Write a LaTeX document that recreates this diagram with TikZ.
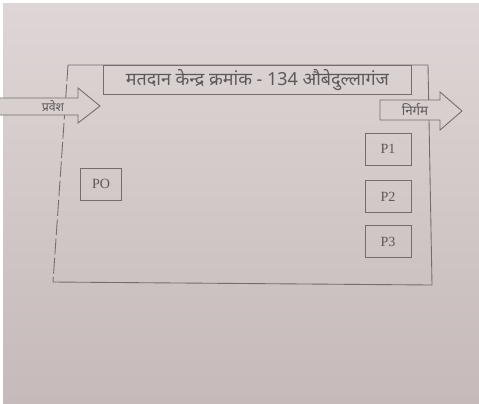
\documentclass[tikz,border=0pt]{standalone}
\usepackage{fontspec}
\setmainfont{Liberation Serif}
\newfontfamily\hindi[Script=Devanagari]{Noto Sans}
\usepackage{tikz}
\usetikzlibrary{positioning}
\definecolor{paperlight}{RGB}{222,214,214}
\definecolor{paperdark}{RGB}{198,186,186}
\definecolor{ink}{RGB}{118,108,108}
\definecolor{inktext}{RGB}{95,88,88}
\tikzset{
  frame/.style={draw=ink, line width=0.5pt},
  booth/.style={draw=ink, line width=0.5pt, minimum width=9.2mm, minimum height=6.4mm,
                inner sep=0pt, font=\footnotesize, text=inktext},
  gate/.style={draw=ink, fill=paperlight!74!paperdark, line width=0.5pt, line join=miter},
  lbl/.style={font=\hindi\scriptsize, text=inktext, inner sep=0pt},
  heading/.style={draw=ink, line width=0.5pt, minimum width=61.6mm, minimum height=5.8mm,
                  inner sep=0pt, font=\hindi\fontsize{10.2}{12}\selectfont, text=inktext}
}

\begin{document}
\begin{tikzpicture}[x=0.2mm, y=-0.2mm, node distance=3mm]
        \fill[white] (0,0) rectangle (479,403);
        \shade[top color=paperlight, bottom color=paperdark] (3,3) rectangle (479,403);
        \useasboundingbox (0,0) rectangle (479,403);
        \coordinate (tl) at (68,65); \coordinate (tr) at (428,65);
        \coordinate (br) at (432,285); \coordinate (bl) at (53,282);
        \draw[frame] (bl) -- (br) -- (tr) -- (tl);
        \draw[frame, dash pattern=on 9pt off 2pt] (tl) -- (bl);
        \node[heading, anchor=north west] (title) at (103,65) {मतदान केन्द्र क्रमांक - 134 औबेदुल्लागंज};
        \draw[gate] (-5,98) -- (78,98) -- (78,88) -- (100,106) -- (78,123) -- (78,115) -- (-5,115) -- cycle;
        \node[lbl] (entry) at (53,106) {प्रवेश};
        \draw[gate] (380,100) -- (440,100) -- (440,92) -- (462,111) -- (440,130) -- (440,120) -- (380,120) -- cycle;
        \node[lbl, font=\hindi\fontsize{7.6}{9}\selectfont] (exit) at (415,110) {निर्गम};
        \node[booth, minimum width=8.2mm] (po) at (101,184) {PO};
        \node[booth] (p1) at (388,149) {P1};
        \node[booth, below=3mm of p1] (p2) {P2};
        \node[booth, below=2.4mm of p2] (p3) {P3};
      \end{tikzpicture}
\end{document}
